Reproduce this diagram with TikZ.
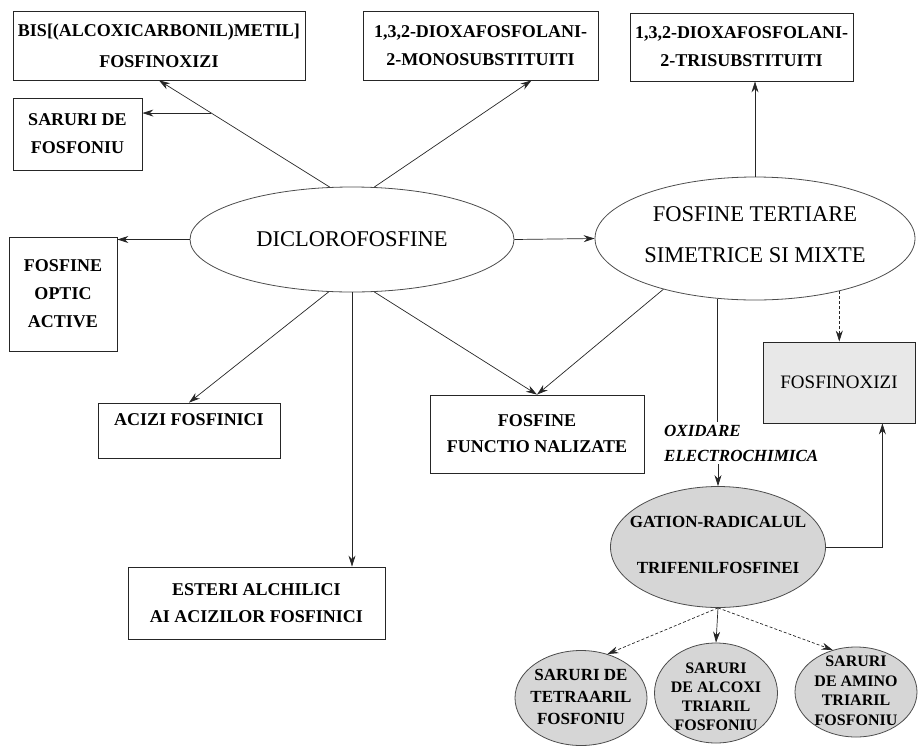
\documentclass[tikz,border=0pt]{standalone}
\usepackage{fontspec}
\setmainfont{Liberation Serif}
\usetikzlibrary{arrows.meta,calc,positioning,shapes.geometric}
\tikzset{
  % box and ellipse styles
  kader/.style={draw=black!85,line width=0.8pt,inner sep=2pt,align=center,
    font=\bfseries\fontsize{18}{28}\selectfont},
  ovaal/.style={ellipse,draw=black!70,line width=0.8pt,inner sep=0pt},
  grijs/.style={fill=black!16},
  lichtgrijs/.style={fill=black!9},
  tekst/.style={align=center,inner sep=1pt},
  % connectors
  pijl/.style={draw=black!85,line width=0.7pt,-{Stealth[length=11pt,width=7pt]}},
  lijn/.style={draw=black!85,line width=0.7pt},
}
\begin{document}
\begin{tikzpicture}[x=1pt,y=-1pt]
  \useasboundingbox (0,0) rectangle (918,745);
  % boxes
  \node[kader,minimum width=292pt,minimum height=69pt,font=\bfseries\fontsize{18}{31}\selectfont] (bis) at (159,45.5) {BIS[(ALCOXICARBONIL)METIL]\\FOSFINOXIZI};
  \node[kader,minimum width=129pt,minimum height=72pt] (saruri) at (77.5,134) {SARURI DE\\FOSFONIU};
  \node[kader,minimum width=235pt,minimum height=69pt] (mono) at (480.5,45.5) {1,3,2-DIOXAFOSFOLANI-\\2-MONOSUBSTITUITI};
  \node[kader,minimum width=223pt,minimum height=68pt] (tri) at (741.5,47) {1,3,2-DIOXAFOSFOLANI-\\2-TRISUBSTITUITI};
  \node[kader,minimum width=108pt,minimum height=114pt] (optic) at (63,294) {FOSFINE\\OPTIC\\ACTIVE};
  \node[kader,minimum width=182pt,minimum height=55pt,text depth=22pt] (acizi) at (189,430.5) {ACIZI FOSFINICI};
  \node[kader,minimum width=214pt,minimum height=78pt,font=\bfseries\fontsize{18}{26}\selectfont] (func) at (537,434) {FOSFINE\\FUNCTIO NALIZATE};
  \node[kader,minimum width=257pt,minimum height=72pt,font=\bfseries\fontsize{18}{27}\selectfont] (esteri) at (256.5,603) {ESTERI ALCHILICI\\AI ACIZILOR FOSFINICI};
  \node[kader,lichtgrijs,minimum width=152pt,minimum height=81pt,font=\fontsize{19}{24}\selectfont] (fox) at (839,382.5) {FOSFINOXIZI};
  % ellipses
  \node[ovaal,minimum width=324pt,minimum height=105pt] (dicl) at (352,239.5) {};
  \node[tekst,font=\fontsize{22.5}{41}\selectfont] (dicl-txt) at (dicl) {DICLOROFOSFINE};
  \node[ovaal,minimum width=320pt,minimum height=123pt] (tert) at (755,238.5) {};
  \node[tekst,font=\fontsize{22.5}{41}\selectfont] (tert-txt) at (755,235) {FOSFINE TERTIARE\\SIMETRICE SI MIXTE};
  \node[ovaal,grijs,minimum width=215pt,minimum height=121pt] (cation) at (718,547) {};
  \node[tekst,font=\bfseries\fontsize{17}{46}\selectfont] (cation-txt) at (718,545) {GATION-RADICALUL\\TRIFENILFOSFINEI};
  \node[ovaal,grijs,minimum width=132pt,minimum height=95pt] (e1) at (581,698) {};
  \node[tekst,font=\bfseries\fontsize{17}{22}\selectfont] (e1-txt) at (581,697) {SARURI DE\\TETRAARIL\\FOSFONIU};
  \node[ovaal,grijs,minimum width=123pt,minimum height=100pt] (e2) at (716,693) {};
  \node[tekst,font=\bfseries\fontsize{16}{19}\selectfont] (e2-txt) at (716,697) {SARURI\\DE ALCOXI\\TRIARIL\\FOSFONIU};
  \node[ovaal,grijs,minimum width=122pt,minimum height=90pt] (e3) at (856,692) {};
  \node[tekst,font=\bfseries\fontsize{16}{19.5}\selectfont] (e3-txt) at (856,691) {SARURI\\DE AMINO\\TRIARIL\\FOSFONIU};
  \node[tekst,anchor=west,align=left,inner sep=3pt,font=\bfseries\itshape\fontsize{17}{25}\selectfont] (oxid) at (661,443) {OXIDARE\\ELECTROCHIMICA};
  % connectors from diclorofosfine
  \coordinate (br) at ($(dicl.113)!0.694!(bis.south)$);
  \draw[pijl] (dicl.113) -- (bis.south);
  \draw[pijl] (br) -- (br -| saruri.east);
  \draw[pijl] (dicl.67) -- ($(mono.south)+(51,0)$);
  \draw[pijl] (dicl.west) -- (dicl.west -| optic.east);
  \draw[pijl] (dicl.east) -- (tert.west);
  \draw[pijl] (dicl.246) -- (acizi.north);
  \draw[pijl] (dicl.south) -- (dicl.south |- esteri.north);
  \draw[pijl] (dicl.293) -- (func.north);
  % connectors from fosfine tertiare
  \draw[pijl] (tert.209) -- (func.north);
  \draw[pijl] (tert.north) -- (tert.north |- tri.south);
  \draw[pijl,densely dashed] (tert.328) -- (tert.328 |- fox.north);
  \draw[lijn] (tert.238) -- (tert.238 |- oxid.north);
  \draw[pijl] (cation.north |- oxid.south) -- (cation.north);
  % connectors from cation-radical
  \draw[pijl] (cation.east) -| ($(fox.south east)+(-33,0)$);
  \draw[pijl,densely dashed] (cation.south) -- (e1.59);
  \draw[pijl] (cation.south) -- (e2.north);
  \draw[pijl,densely dashed] (cation.south) -- (e3.119);
\end{tikzpicture}
\end{document}
